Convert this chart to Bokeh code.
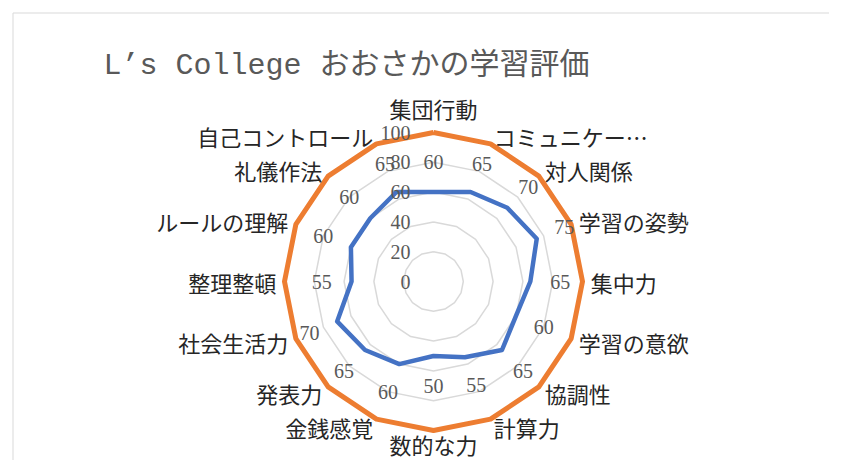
import numpy as np
from bokeh.plotting import figure
from bokeh.models import Range1d, ColumnDataSource
from bokeh.core.properties import value
from bokeh.embed import file_html
from bokeh.resources import INLINE

# ---- data ----
title_text = "L’s College おおさかの学習評価"
categories = ["集団行動", "コミュニケー…", "対人関係", "学習の姿勢", "集中力", "学習の意欲",
              "協調性", "計算力", "数的な力", "金銭感覚", "発表力", "社会生活力",
              "整理整頓", "ルールの理解", "礼儀作法", "自己コントロール"]
scores = [60, 65, 70, 75, 65, 60, 65, 55, 50, 60, 65, 70, 55, 60, 60, 65]
full_marks = [100, 100, 100, 100, 100, 100, 100, 100, 100, 100, 100, 100, 100, 100, 100, 100]
ticks = [0, 20, 40, 60, 80, 100]
tick_labels = ["0", "20", "40", "60", "80", "100"]

# ---- geometry (picture pixels) ----
S = 1.49            # px per unit
CX, CY = 433, 281   # centre of the radar
W, H = 829, 460     # figure size
BL, BT = 12.5, 12.5 # chart-area border

n = len(categories)
ang = np.arange(n) * 2 * np.pi / n
sx, cy = np.sin(ang), np.cos(ang)

def closed(vals):
    v = np.asarray(vals, dtype=float)
    xs = list(v * sx) + [v[0] * sx[0]]
    ys = list(v * cy) + [v[0] * cy[0]]
    return xs, ys

def px(x):
    return (x - CX) / S

def py(y):
    return (CY - y) / S

p = figure(width=W, height=H, output_backend="svg", toolbar_location=None,
           x_axis_type=None, y_axis_type=None,
           x_range=Range1d(px(0), px(W)), y_range=Range1d(py(H), py(0)),
           min_border=0)
p.grid.visible = False
p.outline_line_color = None
p.background_fill_color = "white"
p.border_fill_color = "white"

# chart-area border (left and top edges visible)
p.segment(x0=[px(BL), px(BL)], y0=[py(H), py(BT)], x1=[px(BL), px(W)], y1=[py(BT), py(BT)],
          line_color="#d9d9d9", line_width=1)

# rings
for t in ticks[1:]:
    xs, ys = closed([t] * n)
    p.line(xs, ys, line_color="#d9d9d9", line_width=1.5)

# series
xs, ys = closed(full_marks)
p.line(xs, ys, line_color="#ED7D31", line_width=5, line_join="round")
xs, ys = closed(scores)
p.line(xs, ys, line_color="#4472C4", line_width=4.5, line_join="round")

# tick labels
p.text(x=[-15.4] * len(ticks), y=ticks, text=tick_labels,
       text_font=value("Liberation Serif"), text_font_size=value("20px"),
       text_color="#595959", text_align="right", text_baseline="middle")

# data labels (placed 20 units outside the point)
sc = np.asarray(scores, dtype=float) + 20
p.text(x=list(sc * sx), y=list(sc * cy), text=[str(s) for s in scores],
       text_font=value("Liberation Serif"), text_font_size=value("20px"),
       text_color="#595959", text_align="center", text_baseline="middle")

# category labels
aligns, bases, rads = [], [], []
for s_, c_ in zip(sx, cy):
    aligns.append("left" if s_ > 0.01 else ("right" if s_ < -0.01 else "center"))
    if abs(s_) <= 0.01:
        bases.append("bottom" if c_ > 0 else "top")
        rads.append(105.5 if c_ > 0 else 98.5)
    else:
        bases.append("middle")
        rads.append(105.5)
rads = np.asarray(rads)
src = ColumnDataSource(dict(x=list(rads * sx), y=list(rads * cy), text=categories,
                            align=aligns, base=bases))
p.text(x="x", y="y", text="text", source=src, text_align="align", text_baseline="base",
       text_font=value("Noto Sans CJK JP"), text_font_size=value("22px"),
       text_color="#262626")

# title
p.text(x=[px(103)], y=[py(65)], text=[title_text],
       text_font=value("Liberation Mono, Noto Sans CJK JP"), text_font_size=value("30px"),
       text_color="#595959", text_align="left", text_baseline="middle")

open("out.html", "w").write(file_html(p, INLINE))
